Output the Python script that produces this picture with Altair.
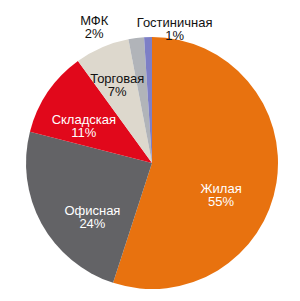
import altair as alt
import pandas as pd
import math

categories = ["Жилая", "Офисная", "Складская", "Торговая", "МФК", "Гостиничная"]
values = [55, 24, 11, 7, 2, 1]
colors = ["#E8720F", "#636366", "#E1081B", "#DDD8CD", "#B1B4B9", "#7D7FC6"]
text_colors = ["#FFFFFF", "#FFFFFF", "#FFFFFF", "#111111", "#111111", "#111111"]

df = pd.DataFrame({
    "cat": categories,
    "value": values,
    "idx": list(range(len(categories))),
    "label": [f"{c}\n{v}%" for c, v in zip(categories, values)],
})

CX, CY, R = 152, 163, 126
theta_scale = alt.Scale(domain=[0, sum(values)], range=[0, 2 * math.pi])

base = alt.Chart(df).transform_window(
    cum="sum(value)", sort=[alt.SortField("idx", order="ascending")],
    frame=[None, 0],
).transform_calculate(
    start="datum.cum - datum.value",
    mid="datum.cum - datum.value / 2",
).encode(
    x=alt.value(CX),
    y=alt.value(CY),
)

pie = base.mark_arc(outerRadius=R, stroke=None).encode(
    theta=alt.Theta("start:Q", scale=theta_scale),
    theta2="cum:Q",
    color=alt.Color("cat:N", scale=alt.Scale(domain=categories, range=colors), legend=None),
)

# label placement tweaks (radius, dx, dy) per category
tweaks = {
    "Жилая": (70, 0, 15),
    "Офисная": (76, 7, 11),
    "Складская": (80, -2, 2),
    "Торговая": (90, 1, -1),
    "МФК": (142, -40, -1),
    "Гостиничная": (140, 27, 0),
}

layers = [pie]
for cat, tc in zip(categories, text_colors):
    r, dx, dy = tweaks[cat]
    layers.append(
        base.mark_text(
            font="Liberation Sans", fontSize=13, lineBreak="\n", lineHeight=13,
            align="center", baseline="middle", dx=dx, dy=dy, color=tc,
        ).encode(
            theta=alt.Theta("mid:Q", scale=theta_scale),
            text="label:N",
            radius=alt.value(r),
        ).transform_filter(alt.datum.cat == cat)
    )

chart = alt.layer(*layers).resolve_scale(theta="shared").properties(
    width=300, height=301, padding=0,
    autosize=alt.AutoSizeParams(type="none"),
    background="#FFFFFF",
).configure_view(stroke=None)

chart.save("out.html", embed_options={"renderer": "svg", "actions": False})
